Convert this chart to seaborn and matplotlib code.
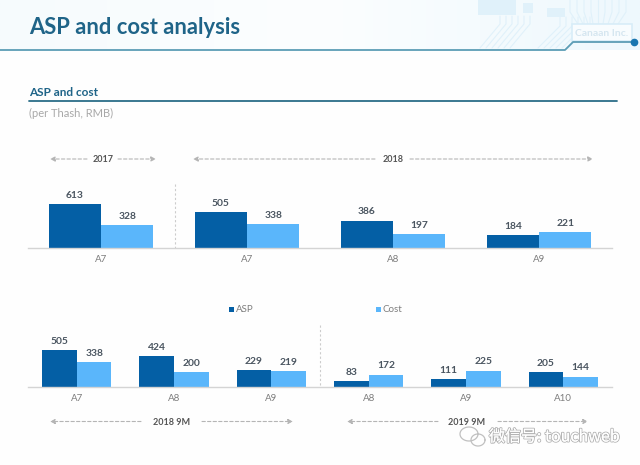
import matplotlib
matplotlib.use("Agg")
import matplotlib.pyplot as plt
import matplotlib.patheffects as pe
from matplotlib.patches import Rectangle
import numpy as np
import pandas as pd
import seaborn as sns

series = ["ASP", "Cost"]
top_groups = ["2017 A7", "2018 A7", "2018 A8", "2018 A9"]
top_labels = ["A7", "A7", "A8", "A9"]
top_asp = [613, 505, 386, 184]
top_cost = [328, 338, 197, 221]
bottom_groups = ["2018 A7", "2018 A8", "2018 A9", "2019 A8", "2019 A9", "2019 A10"]
bottom_labels = ["A7", "A8", "A9", "A8", "A9", "A10"]
bottom_asp = [505, 424, 229, 83, 111, 205]
bottom_cost = [338, 200, 219, 172, 225, 144]

W, H = 640, 465
DARK = "#045fa5"
LIGHT = "#5ab6fb"
TEAL = "#1f6488"
TXT = "#4a5560"
FONT = ["Lato", "DejaVu Sans"]

sns.set_theme(style="white")
plt.rcParams["font.family"] = ["Lato", "Noto Sans CJK SC", "DejaVu Sans"]

fig = plt.figure(figsize=(W / 100, H / 100), dpi=100, facecolor="#fefefe")


def px_axes(left, top, right, bottom, **kw):
    return fig.add_axes([left / W, 1 - bottom / H, (right - left) / W, (bottom - top) / H], **kw)


# overlay in pixel coordinates for the slide furniture
bg = px_axes(0, 0, W, H, zorder=0)
bg.set_xlim(0, W)
bg.set_ylim(H, 0)
bg.axis("off")

# header tint
grad = np.linspace(0, 1, 256).reshape(1, -1)
bg.imshow(grad, extent=(0, 640, 50, 0), aspect="auto", cmap=matplotlib.colors.LinearSegmentedColormap.from_list(
    "hdr", ["#f6fbfd", "#fcfeff", "#eef8fd"]), zorder=0)

# circuit decoration top right
C = "#e0f1fa"
for x0, y0, w, h in [(478, 0, 38, 15), (547, 8, 18, 9), (523, 3, 10, 10)]:
    bg.add_patch(Rectangle((x0, y0), w, h, fc=C, ec="none", zorder=1))
for i in range(6):
    bg.plot([480 + i * 6, 500 + i * 6, 500 + i * 6], [48, 24, 16], color=C, lw=0.8, zorder=1)
    bg.plot([538 + i * 6, 560 + i * 6, 560 + i * 6], [48, 26, 17], color=C, lw=0.8, zorder=1)
for i in range(9):
    bg.plot([570 + i * 7, 570 + i * 7, 578 + i * 5], [0, 12, 24], color=C, lw=0.8, zorder=1)
bg.add_patch(Rectangle((572, 24), 60, 17, fc="#f8fcfe", ec="#d8edf8", lw=1.2, zorder=1))
bg.text(602, 33.5, "Canaan Inc.", fontsize=7.5, fontweight="bold", color="#d5e6f0",
        ha="center", va="center", family=FONT, zorder=2)

# header rule and section rule
bg.plot([0, 565, 573, 634], [50, 50, 42, 42], color="#5c9db5", lw=1.3, zorder=2)
bg.plot([634], [42], "o", color="#1a76b0", ms=4.5, zorder=3)
bg.plot([29, 617], [101, 101], color="#2b6d88", lw=1.3, zorder=2)

bg.text(29, 27, "ASP and cost analysis", fontsize=15.8, fontweight="bold", color=TEAL,
        ha="left", va="center", family=FONT)
bg.text(29, 92.5, "ASP and cost", fontsize=8.5, fontweight="bold", color=TEAL,
        ha="left", va="center", family=FONT)
bg.text(29, 113, "(per Thash, RMB)", fontsize=8, color="#a8a8a8", ha="left", va="center", family=FONT)


def span(x0, x1, xt, xt_label, y, label):
    # dashed arrows either side of a period label
    for a, b in [(xt_label[0], x0), (xt_label[1], x1)]:
        bg.annotate("", xy=(b, y), xytext=(a, y),
                    arrowprops=dict(arrowstyle="-|>", ls=(0, (3, 2)), color="#b5b5b5", lw=0.8,
                                    shrinkA=0, shrinkB=0, mutation_scale=7))
    bg.text(xt, y + 0.5, label, fontsize=6.5, fontweight="bold", color="#555555",
            ha="center", va="center", family=FONT)


span(50, 156, 103, (87, 118), 159, "2017")
span(193, 593, 393, (375, 410), 159, "2018")
span(50, 293, 172, (141, 202), 421.5, "2018 9M")
span(347, 588, 467, (438, 498), 421.5, "2019 9M")

bg.plot([174.5, 174.5], [184, 248], color="#cccccc", lw=0.8, ls=(0, (2, 2)), zorder=1)
bg.plot([320, 320], [325, 387], color="#cccccc", lw=0.8, ls=(0, (2, 2)), zorder=1)


def bars(ax, groups, labels, asp, cost, ymax):
    df = pd.DataFrame({"group": groups * 2,
                       "series": [series[0]] * len(groups) + [series[1]] * len(groups),
                       "value": asp + cost})
    sns.barplot(data=df, x="group", y="value", hue="series", hue_order=series,
                palette=[DARK, LIGHT], width=0.715, saturation=1, legend=False, ax=ax, gap=0,
                linewidth=0)
    for c in ax.containers:
        ax.bar_label(c, fmt="%d", padding=3, fontsize=7.4, fontweight="bold", color=TXT, family=FONT)
    ax.set_xlim(-0.5, len(groups) - 0.5)
    ax.set_ylim(0, ymax)
    ax.set_xticks(range(len(groups)), labels)
    ax.set_xlabel("")
    ax.set_ylabel("")
    ax.set_yticks([])
    ax.patch.set_alpha(0)
    sns.despine(ax=ax, left=True)
    ax.spines["bottom"].set_color("#d4d4d4")
    ax.spines["bottom"].set_linewidth(1)
    ax.tick_params(axis="x", length=0, pad=4.8, labelsize=7, labelcolor="#7d7d7d")


# 0.0718 px per RMB on top, 0.0726 px per RMB below
ax1 = px_axes(28, 248.3 - 60, 612, 248.3, zorder=2)
bars(ax1, top_groups, top_labels, top_asp, top_cost, 60 / 0.0718)
ax2 = px_axes(28, 387 - 50, 612, 387, zorder=2)
bars(ax2, bottom_groups, bottom_labels, bottom_asp, bottom_cost, 50 / 0.0726)

# legend
for x, col, name in [(229, DARK, series[0]), (376, LIGHT, series[1])]:
    bg.add_patch(Rectangle((x, 306.5), 5, 5, fc=col, ec="none"))
    bg.text(x + 6.5, 309, name, fontsize=7, color="#7d7d7d", ha="left", va="center", family=FONT)

# watermark
stroke = [pe.withStroke(linewidth=1.4, foreground="#b4b4b4"), pe.Normal()]
bg.text(489, 437, "微信号: touchweb", fontsize=11.5, color="#ffffff", ha="left", va="center",
        path_effects=stroke, family=["Noto Sans CJK SC", "DejaVu Sans"], zorder=5)
t = np.linspace(0, 2 * np.pi, 60)
bg.plot(469 + 9 * np.cos(t), 434 + 7 * np.sin(t), color="#c0c0c0", lw=0.9, zorder=5)
bg.plot(478 + 7 * np.cos(t), 440 + 6 * np.sin(t), color="#c0c0c0", lw=0.9, zorder=5)

fig.savefig("out.png", dpi=100, facecolor=fig.get_facecolor())
